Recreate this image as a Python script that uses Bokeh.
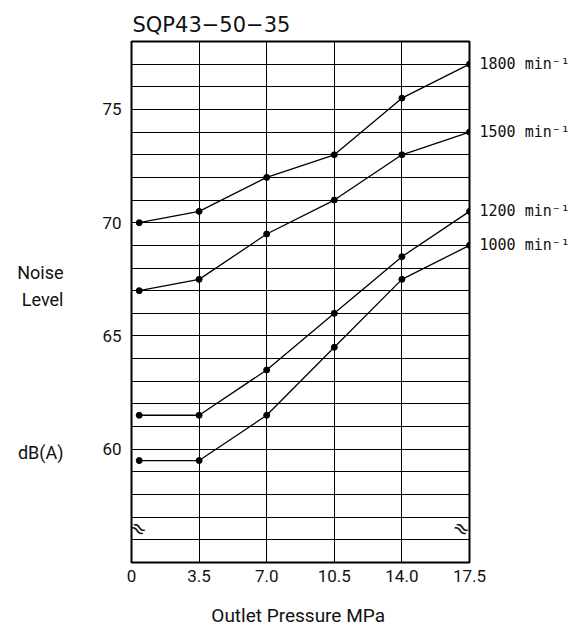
from bokeh.plotting import figure
from bokeh.models import Range1d, FixedTicker, Label, LinearAxis, Title
from bokeh.embed import file_html
from bokeh.resources import INLINE

# ---- data ----
pressure = [0.4, 3.5, 7.0, 10.5, 14.0, 17.5]
noise_1800 = [70, 70.5, 72, 73, 75.5, 77]
noise_1500 = [67, 67.5, 69.5, 71, 73, 74]
noise_1200 = [61.5, 61.5, 63.5, 66, 68.5, 70.5]
noise_1000 = [59.5, 59.5, 61.5, 64.5, 67.5, 69]
series_names = ["1800 min⁻¹", "1500 min⁻¹", "1200 min⁻¹", "1000 min⁻¹"]
x_ticks = [0, 3.5, 7.0, 10.5, 14.0, 17.5]
x_tick_labels = ["0", "3.5", "7.0", "10.5", "14.0", "17.5"]
y_ticks = [60, 65, 70, 75]
y_grid = list(range(56, 78))
x_grid = [3.5, 7.0, 10.5, 14.0]
title_text = "SQP43−50−35"
y_title_parts = ["Noise", "Level", "dB(A)"]
y_title_pos = [67.8, 66.6, 59.85]
x_title = "Outlet Pressure  MPa"
break_at = 56.5

p = figure(width=572, height=629, output_backend="svg", toolbar_location=None,
           x_range=Range1d(0, 17.5), y_range=Range1d(55, 78),
           min_border_left=131, min_border_right=102, min_border_top=41, min_border_bottom=67)
p.background_fill_color = "white"
p.border_fill_color = "white"
p.outline_line_color = "black"
p.outline_line_width = 2

p.add_layout(Title(text=title_text, align="left", offset=1, standoff=10,
                   text_font="DejaVu Sans", text_font_size="21px", text_font_style="normal",
                   text_color="#111111"), "above")

p.xgrid.ticker = FixedTicker(ticks=x_grid)
p.ygrid.ticker = FixedTicker(ticks=y_grid)
for g in (p.xgrid, p.ygrid):
    g.grid_line_color = "black"
    g.grid_line_alpha = 1.0
    g.grid_line_width = 1

p.xaxis.ticker = FixedTicker(ticks=x_ticks)
p.xaxis.major_label_overrides = {t: l for t, l in zip(x_ticks, x_tick_labels)}
p.yaxis.ticker = FixedTicker(ticks=y_ticks)

all_series = [noise_1800, noise_1500, noise_1200, noise_1000]
ends = [s[-1] for s in all_series]
right_axis = LinearAxis(ticker=FixedTicker(ticks=ends),
                        major_label_overrides={e: n for e, n in zip(ends, series_names)})
p.add_layout(right_axis, "right")

left_title_axis = LinearAxis(ticker=FixedTicker(ticks=y_title_pos),
                             major_label_overrides={v: t for v, t in zip(y_title_pos, y_title_parts)})
p.add_layout(left_title_axis, "left")

for ax in p.axis:
    ax.axis_line_color = None
    ax.major_tick_line_color = None
    ax.minor_tick_line_color = None
    ax.major_tick_out = 0
    ax.major_tick_in = 0
    ax.minor_tick_out = 0
    ax.minor_tick_in = 0
    ax.major_label_text_font = "Roboto"
    ax.major_label_text_font_size = "17px"
    ax.major_label_text_color = "#111111"

p.xaxis.major_label_standoff = 7
p.yaxis[0].major_label_standoff = 10
left_title_axis.major_label_standoff = 36
left_title_axis.major_label_text_font_size = "18px"
right_axis.major_label_standoff = 10
right_axis.major_label_text_font = "DejaVu Sans Mono"
right_axis.major_label_text_font_size = "15px"

p.xaxis.axis_label = x_title
p.xaxis.axis_label_text_font = "Roboto"
p.xaxis.axis_label_text_font_size = "19px"
p.xaxis.axis_label_text_font_style = "normal"
p.xaxis.axis_label_text_color = "#111111"
p.xaxis.axis_label_standoff = 19

for ys in all_series:
    p.line(pressure, ys, line_color="black", line_width=1.3)
    p.scatter(pressure, ys, size=6, fill_color="black", line_color="black")

# axis break marks (kept inside the frame so they are not clipped)
for bx, off in ((0, 7), (17.5, -8)):
    p.add_layout(Label(x=bx, y=break_at, text="≈", x_offset=off, text_baseline="middle",
                       text_align="center", angle=-0.6, text_font="DejaVu Sans",
                       text_font_size="20px", text_color="#111111"))

open("out.html", "w").write(file_html(p, INLINE))
